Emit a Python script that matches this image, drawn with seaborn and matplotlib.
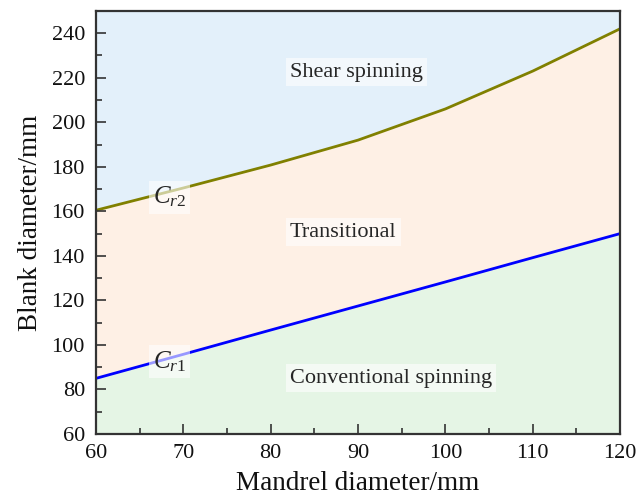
import numpy as np
import pandas as pd
import matplotlib
matplotlib.use("Agg")
import matplotlib.pyplot as plt
import seaborn as sns
from matplotlib.ticker import MultipleLocator

mandrel = [60, 70, 80, 90, 100, 110, 120]
cr1 = [85, 95.8, 106.7, 117.5, 128.3, 139.2, 150]
cr2 = [160.5, 170.5, 180.8, 192.0, 206.0, 223.0, 242.0]

sns.set_theme(style="ticks")
plt.rcParams['font.family'] = ['Liberation Serif', 'DejaVu Serif']
plt.rcParams['mathtext.fontset'] = 'custom'
plt.rcParams['mathtext.it'] = 'Liberation Serif:italic'
plt.rcParams['mathtext.rm'] = 'Liberation Serif'

df = pd.DataFrame({"Mandrel": mandrel, "Cr1": cr1, "Cr2": cr2})

fig = plt.figure(figsize=(6.36, 4.98), dpi=100)
ax = fig.add_axes([0.151, 0.1285, 0.824, 0.8495])

ymin, ymax = 60, 250
ax.fill_between(df["Mandrel"], df["Cr2"], ymax, color="#E3F0FA", lw=0)
ax.fill_between(df["Mandrel"], df["Cr1"], df["Cr2"], color="#FEF0E5", lw=0)
ax.fill_between(df["Mandrel"], ymin, df["Cr1"], color="#E5F5E5", lw=0)

sns.lineplot(data=df, x="Mandrel", y="Cr2", ax=ax, color="#808000", lw=2)
sns.lineplot(data=df, x="Mandrel", y="Cr1", ax=ax, color="#0000FF", lw=2)

ax.set_axisbelow(False)
ax.set_xlim(60, 120)
ax.set_ylim(ymin, ymax)
ax.xaxis.set_major_locator(MultipleLocator(10))
ax.xaxis.set_minor_locator(MultipleLocator(5))
ax.yaxis.set_major_locator(MultipleLocator(20))
ax.yaxis.set_minor_locator(MultipleLocator(10))
ax.tick_params(which="both", direction="in", bottom=True, left=True, top=False, right=False,
               labelsize=16, labelcolor="#111111", color="#333333")
ax.tick_params(which="major", length=7, width=1.2)
ax.tick_params(which="minor", length=4, width=1.2)
ax.tick_params(axis="y", which="major", pad=8)
ax.tick_params(axis="x", which="major", pad=7)
for s in ax.spines.values():
    s.set_visible(True)
    s.set_color("#333333")
    s.set_linewidth(1.6)

ax.set_xlabel("Mandrel diameter/mm", fontsize=19.5, color="#111111", labelpad=6)
ax.set_ylabel("Blank diameter/mm", fontsize=19.5, color="#111111", labelpad=6)

box = dict(facecolor="white", alpha=0.6, edgecolor="none", pad=3)
ax.text(82.2, 222.5, "Shear spinning", fontsize=16, ha="left", va="center", bbox=box)
ax.text(82.2, 150.7, "Transitional", fontsize=16, ha="left", va="center", bbox=box)
ax.text(82.2, 85.1, "Conventional spinning", fontsize=16, ha="left", va="center", bbox=box)
ax.text(66.5, 166.4, r"$C_{r2}$", fontsize=18, ha="left", va="center", bbox=box)
ax.text(66.5, 92.5, r"$C_{r1}$", fontsize=18, ha="left", va="center", bbox=box)

fig.savefig("out.png", dpi=100)
